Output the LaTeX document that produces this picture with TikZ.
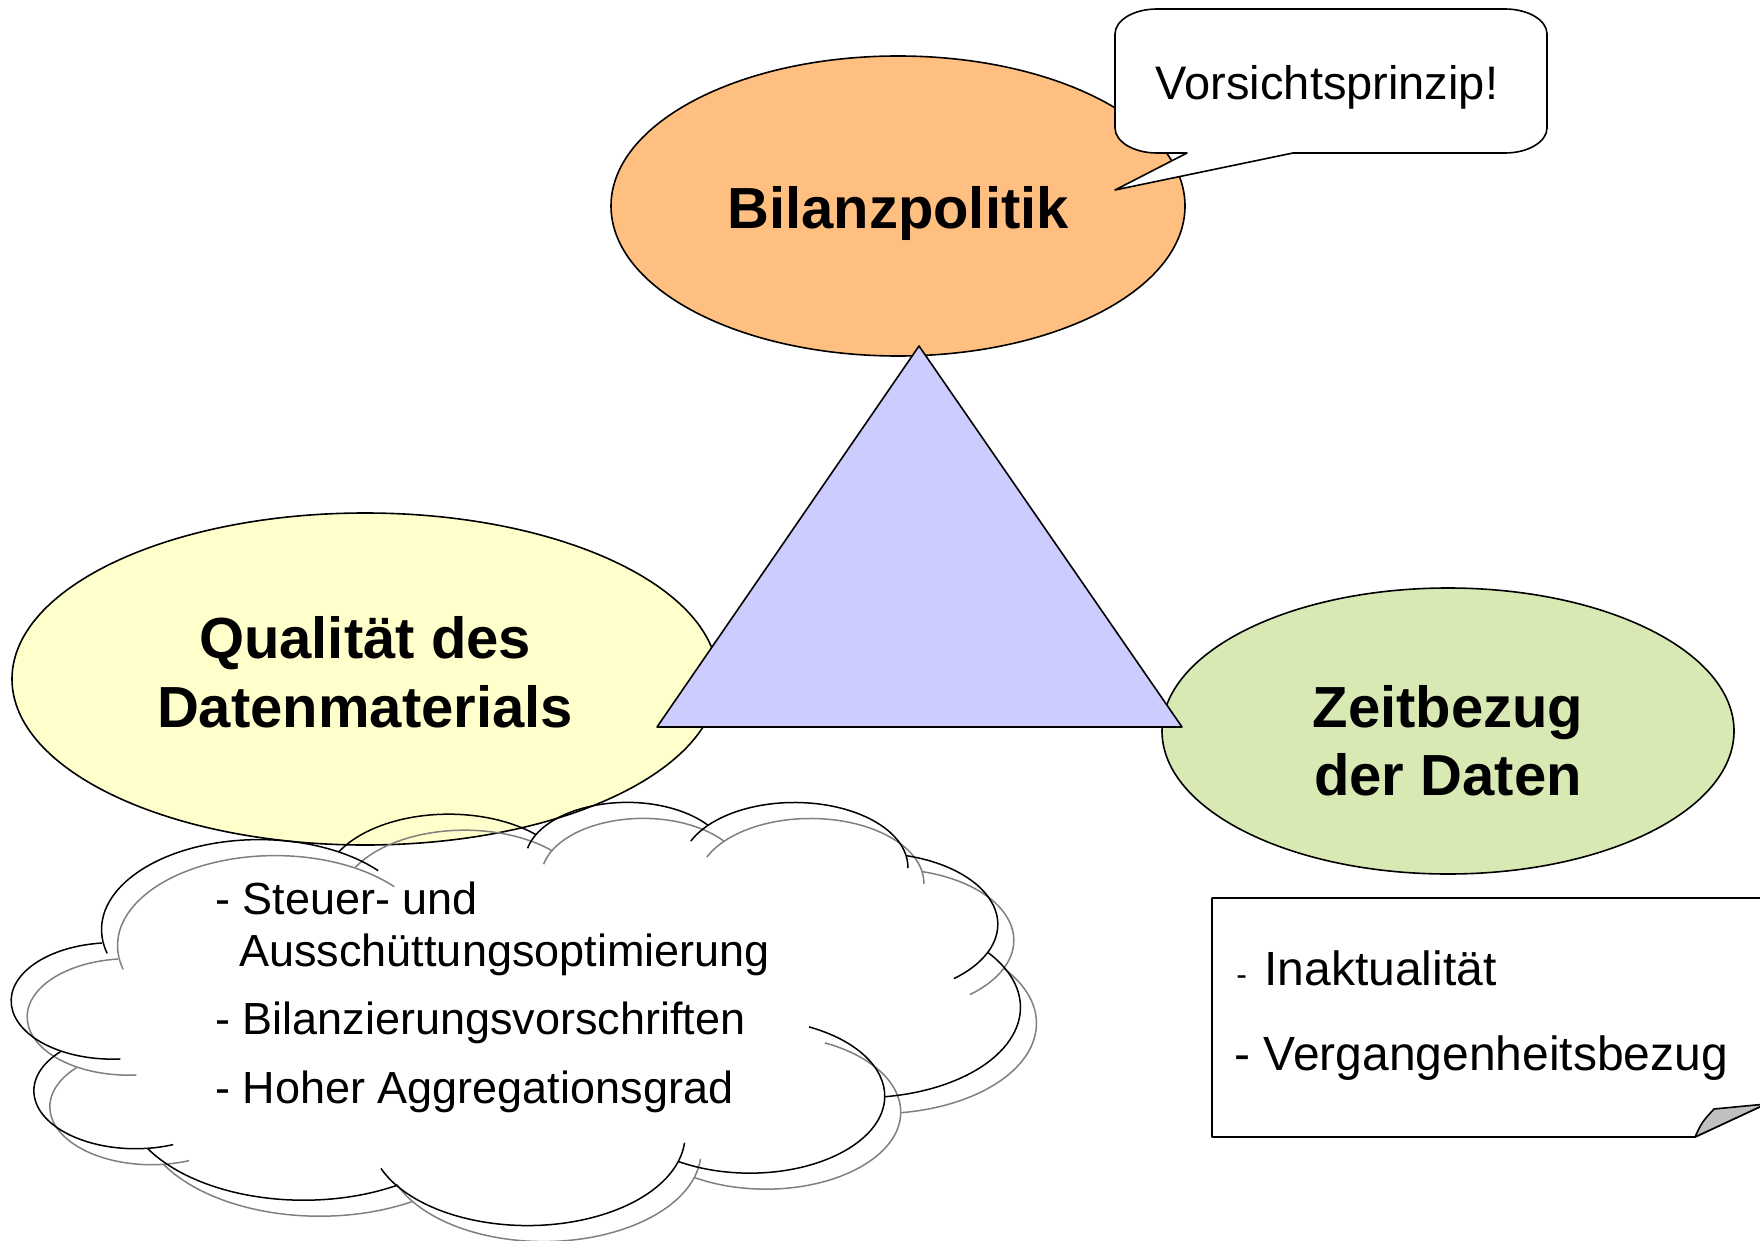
\documentclass[tikz,border=0pt]{standalone}
\usepackage{fontspec}
\setmainfont{Liberation Sans}
\definecolor{orangefill}{RGB}{255,191,128}
\definecolor{yellowfill}{RGB}{255,255,204}
\definecolor{greenfill}{RGB}{216,233,180}
\definecolor{trifill}{RGB}{204,204,255}
\definecolor{shadowgray}{RGB}{128,128,128}
\definecolor{foldgray}{RGB}{192,192,192}
% one lobe of the cloud: from, to, wR, hR, start angle, sweep, pre-tail, post-tail (visual angles)
\newcommand\cldarc[8]{%
  \pgfmathsetmacro\cta{atan2((#3)*sin(#5),(#4)*cos(#5))}%
  \pgfmathsetmacro\ctb{atan2((#3)*sin((#5)+(#6)),(#4)*cos((#5)+(#6)))}%
  \pgfmathsetmacro\cdd{mod(\ctb-\cta+720,360)}%
  \draw (#1) arc[x radius=#3, y radius=#4, start angle=\cta, delta angle=\cdd] coordinate (#2);
  \ifdim #7pt>0pt
    \pgfmathsetmacro\ctp{atan2((#3)*sin((#5)-(#7)),(#4)*cos((#5)-(#7)))}%
    \pgfmathsetmacro\cdp{mod(\cta-\ctp+720,360)}%
    \draw (#1) arc[x radius=#3, y radius=#4, start angle=\cta, delta angle=-\cdp];
  \fi
  \ifdim #8pt>0pt
    \pgfmathsetmacro\ctq{atan2((#3)*sin((#5)+(#6)+(#8)),(#4)*cos((#5)+(#6)+(#8)))}%
    \pgfmathsetmacro\cdq{mod(\ctq-\ctb+720,360)}%
    \draw (#2) arc[x radius=#3, y radius=#4, start angle=\ctb, delta angle=\cdq];
  \fi
}
\newcommand\cloudpath{%
  \coordinate (k0) at (39,143.7);
  \cldarc{k0}{k1}{67.53}{91.90}{-190.4875}{123.7805}{10}{17}
  \cldarc{k1}{k2}{53.33}{72.67}{-144.1024}{89.9452}{0}{0}
  \cldarc{k2}{k3}{43.65}{59.45}{-145.8079}{99.7230}{17.7}{0}
  \cldarc{k3}{k4}{48.57}{65.95}{-130.9861}{117.2417}{18.2}{14.9}
  \cldarc{k4}{k5}{53.33}{72.73}{-78.7089}{109.0269}{0}{27.75}
  \cldarc{k5}{k6}{67.75}{92.20}{-46.2673}{130.2690}{0}{0}
  \cldarc{k6}{k7}{57.85}{78.67}{0.6250}{114.0333}{70.9}{0}
  \cldarc{k7}{k8}{67.52}{92.15}{22.4516}{115.1726}{16.0}{14.1}
  \cldarc{k8}{k9}{77.20}{105.43}{66.2426}{75.7110}{0}{0}
  \cldarc{k9}{k10}{43.60}{59.18}{-274.9421}{146.7356}{11.4}{0}
  \cldarc{k10}{k11}{43.45}{59.45}{-246.8285}{152.5189}{26.4}{0}
}
\begin{document}
\begin{tikzpicture}[x=0.5pt,y=-0.5pt,line join=round,
  shape line/.style={draw=black, line width=0.8pt},
  big label/.style={font=\fontsize{29}{34}\selectfont\bfseries, inner sep=0pt, anchor=base},
  cloud text/.style={font=\fontsize{22.5}{26}\selectfont, inner sep=0pt, anchor=base west},
  note text/.style={font=\fontsize{24}{28}\selectfont, inner sep=0pt, anchor=base west}]
\useasboundingbox (0,0) rectangle (1760,1241);
\fill[white] (0,0) rectangle (1760,1241);

% Bilanzpolitik ellipse
\draw[shape line, fill=orangefill] (898,206) ellipse[x radius=287, y radius=150];
% speech bubble
\draw[shape line, fill=white] (1187,153) -- (1157,153)
  arc[x radius=42, y radius=25, start angle=90, end angle=180] -- (1115,34)
  arc[x radius=42, y radius=25, start angle=180, end angle=270] -- (1505,9)
  arc[x radius=42, y radius=25, start angle=270, end angle=360] -- (1547,128)
  arc[x radius=42, y radius=25, start angle=0, end angle=90] -- (1293,153)
  -- (1115,190) -- cycle;
\node[font=\fontsize{23.5}{28}\selectfont, inner sep=0pt, anchor=base] (vp) at (1327,100) {Vorsichtsprinzip!};

% other ellipses
\draw[shape line, fill=yellowfill] (365,679) ellipse[x radius=353, y radius=166];
\draw[shape line, fill=greenfill] (1448,731) ellipse[x radius=286, y radius=143];
% triangle
\draw[shape line, fill=trifill] (919,346) -- (1182,727) -- (657,727) -- cycle;

\node[big label] (bil) at (898,228) {Bilanzpolitik};
\node[big label] (q1) at (365,658) {Qualität des};
\node[big label] (q2) at (365,727) {Datenmaterials};
\node[big label] (z1) at (1448,727) {Zeitbezug};
\node[big label] (z2) at (1448,795) {der Daten};

% cloud: shadow then outline
\begin{scope}[shift={(14pt,-408.5pt)}, x=1.16667pt, y=-0.48958pt, color=shadowgray, line width=0.75pt]
  \cloudpath
\end{scope}
\begin{scope}[shift={(6pt,-400.5pt)}, x=1.16667pt, y=-0.48958pt, color=black, line width=0.75pt]
  \cloudpath
\end{scope}
\node[cloud text] (c1) at (215,914) {- Steuer- und};
\node[cloud text] (c2) at (239,966) {Ausschüttungsoptimierung};
\node[cloud text] (c3) at (215,1034) {- Bilanzierungsvorschriften};
\node[cloud text] (c4) at (215,1103) {- Hoher Aggregationsgrad};

% note with folded corner
\draw[shape line, fill=white] (1212,898) -- (1766,898) -- (1766,1104) -- (1695,1137) -- (1212,1137) -- cycle;
\draw[shape line, fill=foldgray] (1695,1137) .. controls (1702,1122) .. (1714,1109) -- (1766,1104) -- cycle;
\node[note text, font=\fontsize{16}{20}\selectfont] (n1d) at (1236,985) {-};
\node[note text] (n1) at (1264,985) {Inaktualität};
\node[note text] (n2) at (1234,1070) {- Vergangenheitsbezug};
\end{tikzpicture}
\end{document}
